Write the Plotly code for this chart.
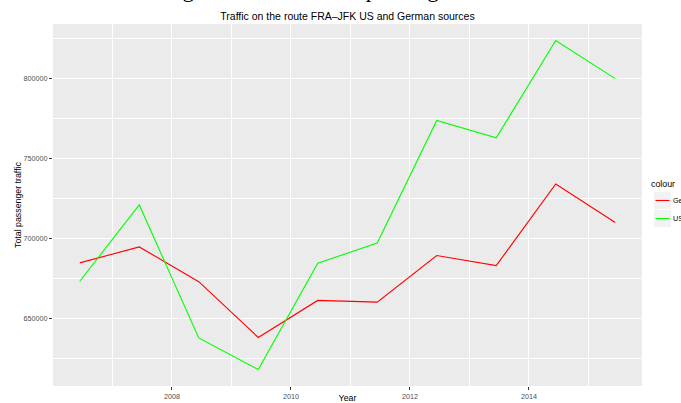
import plotly.graph_objects as go

# ---- data ----
years = [2006.45, 2007.45, 2008.45, 2009.45, 2010.45, 2011.45, 2012.45, 2013.45, 2014.45, 2015.45]
german = [684600, 694600, 672800, 637900, 661100, 660000, 689200, 682900, 734000, 709900]
us = [673100, 720900, 637600, 617800, 684400, 697000, 773800, 762900, 823900, 800000]
x_ticks = [2008, 2010, 2012, 2014]
y_ticks = [650000, 700000, 750000, 800000]
series_names = ["German", "US"]
series_colors = ["#FF0000", "#00FF00"]

W, H = 681, 403
L, R, T, B = 53, 642, 24, 386  # panel pixel box

def px_x(p):
    return (p - L) / (R - L)

def px_y(p):
    return (B - p) / (B - T)

# ggplot-like 5% expansion
xmin, xmax = min(years), max(years)
dx = (xmax - xmin) * 0.05
allv = german + us
ymin, ymax = min(allv), max(allv)
dy = (ymax - ymin) * 0.05

fig = go.Figure()
for name, vals, col in zip(series_names, [german, us], series_colors):
    fig.add_trace(go.Scatter(x=years, y=vals, mode="lines", name=name,
                             line=dict(color=col, width=1.1), showlegend=False,
                             hoverinfo="x+y"))

font = "Liberation Sans, Arial, Helvetica, sans-serif"

fig.update_layout(
    width=W, height=H,
    margin=dict(l=L, r=W - R, t=T, b=H - B, autoexpand=False),
    paper_bgcolor="white",
    plot_bgcolor="#EBEBEB",
    font=dict(family=font, color="black"),
    title=dict(text="Traffic on the route FRA\u2013JFK US and German sources",
               x=0.5, xref="paper", xanchor="center",
               y=1 - 16 / H, yref="container", yanchor="middle",
               font=dict(size=10.5, color="black", family=font)),
    xaxis=dict(range=[xmin - dx, xmax + dx], tickvals=x_ticks,
               ticktext=[str(v) for v in x_ticks],
               showgrid=True, gridcolor="white", gridwidth=1.1,
               minor=dict(dtick=1, tick0=2007, showgrid=True, gridcolor="white", gridwidth=0.55),
               zeroline=False, showline=False,
               ticks="outside", ticklen=3, tickwidth=1, tickcolor="#333333",
               tickfont=dict(size=7.2, color="#4D4D4D"),
               title=dict(text="Year", font=dict(size=8.8, color="black"), standoff=8)),
    yaxis=dict(range=[ymin - dy, ymax + dy], tickvals=y_ticks,
               ticktext=[str(v) for v in y_ticks],
               showgrid=True, gridcolor="white", gridwidth=1.1,
               minor=dict(dtick=25000, tick0=625000, showgrid=True, gridcolor="white", gridwidth=0.55),
               zeroline=False, showline=False,
               ticks="outside", ticklen=3, tickwidth=1, tickcolor="#333333",
               tickfont=dict(size=7.2, color="#4D4D4D"),
               title=dict(text="Total passenger traffic", font=dict(size=8.8, color="black"), standoff=0)),
)

# ---- ggplot-style legend (partly cut off at the right edge, as in the reference) ----
shapes = []
annotations = []
annotations.append(dict(text="colour", xref="paper", yref="paper",
                        x=px_x(649), y=px_y(183.5), xanchor="left", yanchor="middle",
                        showarrow=False, font=dict(size=8.8, color="black", family=font)))
key_tops = [192, 210]
for i, (name, col) in enumerate(zip(series_names, series_colors)):
    top = key_tops[i]
    shapes.append(dict(type="rect", xref="paper", yref="paper",
                       x0=px_x(654), x1=px_x(671), y0=px_y(top), y1=px_y(top + 17),
                       fillcolor="#F2F2F2", line=dict(width=0), layer="above"))
    shapes.append(dict(type="line", xref="paper", yref="paper",
                       x0=px_x(655.5), x1=px_x(669.5), y0=px_y(top + 8.5), y1=px_y(top + 8.5),
                       line=dict(color=col, width=1.1), layer="above"))
    annotations.append(dict(text=name, xref="paper", yref="paper",
                            x=px_x(671), y=px_y(top + 8.5), xanchor="left", yanchor="middle",
                            showarrow=False, font=dict(size=7.2, color="black", family=font)))

# cropped large heading at the very top of the reference image (only descenders show)
annotations.append(dict(text="Change of the annual air passenger traffic", xref="paper", yref="paper",
                        x=px_x(132), y=1, xanchor="left", yanchor="bottom", yshift=19.5,
                        showarrow=False,
                        font=dict(size=23, color="black", family="Liberation Serif, Times New Roman, serif")))

fig.update_layout(shapes=shapes, annotations=annotations)

fig.write_html("out.html",
               config={"displayModeBar": False},
               post_script="document.body.style.margin='0';document.body.style.padding='0';"
                           "document.body.style.overflow='hidden';")
